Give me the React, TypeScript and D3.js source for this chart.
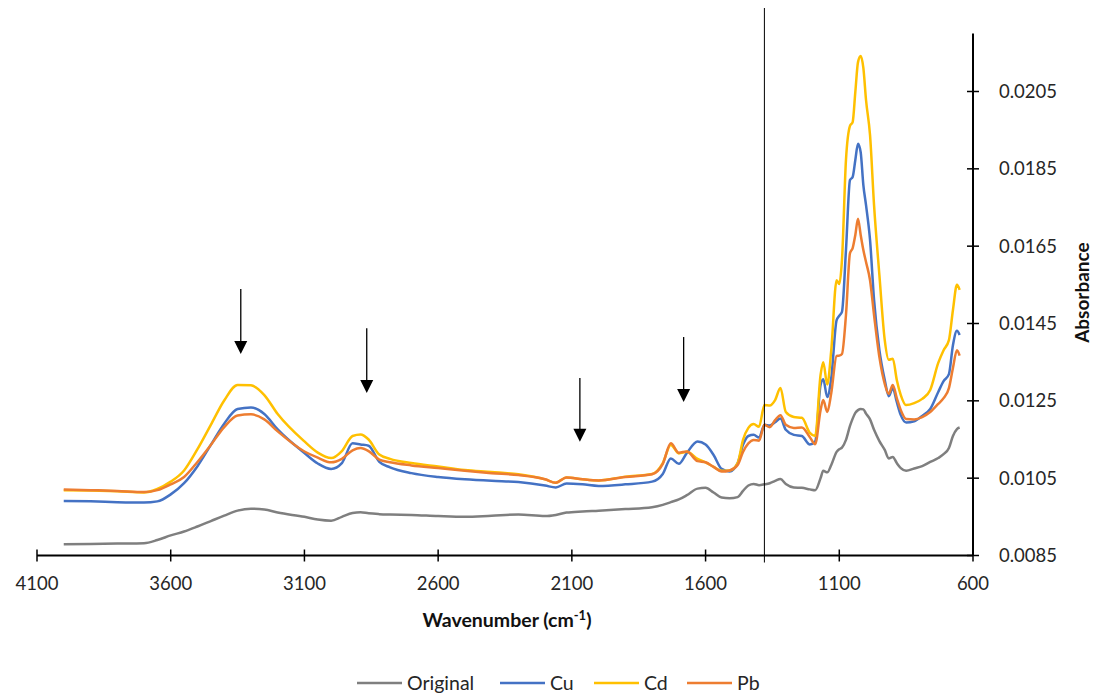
import React from "react";
import * as d3 from "d3";

// wavenumber grid (cm-1), shared by every spectrum
const wavenumbers = [
  4000, 3900, 3800, 3700, 3650, 3600, 3550, 3500, 3450, 3400,
  3350, 3300, 3250, 3200, 3100, 3050, 3000, 2960, 2920, 2890,
  2860, 2820, 2780, 2700, 2600, 2500, 2400, 2300, 2200, 2160,
  2120, 2060, 2000, 1900, 1800, 1760, 1730, 1700, 1670, 1630,
  1600, 1570, 1540, 1510, 1480, 1460, 1440, 1420, 1400, 1380,
  1360, 1340, 1320, 1300, 1270, 1240, 1210, 1190, 1170, 1160,
  1145, 1130, 1110, 1100, 1090, 1075, 1060, 1050, 1040, 1030,
  1020, 1010, 1000, 985, 970, 950, 930, 915, 900, 885,
  870, 850, 820, 790, 760, 730, 710, 690, 675, 660,
  650,
];

const original = [
  0.00879, 0.0088, 0.00881, 0.00882, 0.0089, 0.00902, 0.00912, 0.00925, 0.00939, 0.00953,
  0.00966, 0.00971, 0.00969, 0.00961, 0.0095, 0.00943, 0.0094, 0.0095, 0.0096, 0.00962,
  0.00959, 0.00957, 0.00956, 0.00955, 0.00952, 0.0095, 0.00953, 0.00956, 0.00952, 0.00955,
  0.00961, 0.00964, 0.00966, 0.0097, 0.00975, 0.00981, 0.00988, 0.00995, 0.01006, 0.01023,
  0.01025, 0.01013, 0.01, 0.00998, 0.01001, 0.01017, 0.01031, 0.01035, 0.01032, 0.01034,
  0.01037, 0.01043, 0.01048, 0.01035, 0.01026, 0.01025, 0.01021, 0.01019, 0.0105, 0.01069,
  0.01065, 0.01084, 0.01118, 0.01125, 0.01129, 0.01149, 0.01185, 0.01204, 0.01219, 0.01226,
  0.01229, 0.01228, 0.01217, 0.01202, 0.01175, 0.01146, 0.01123, 0.01101, 0.01105, 0.01089,
  0.01076, 0.01069, 0.01075, 0.01081, 0.01092, 0.01102, 0.01112, 0.01128, 0.01159, 0.01177,
  0.01181,
];

const cu = [
  0.00991, 0.0099, 0.00988, 0.00987, 0.0099, 0.01008, 0.01037, 0.01081, 0.01136, 0.01191,
  0.01229, 0.01233, 0.01216, 0.01176, 0.01115, 0.01088, 0.01074, 0.01089, 0.0114, 0.01137,
  0.01134, 0.01092, 0.01078, 0.01063, 0.01053, 0.01047, 0.01043, 0.0104, 0.01031, 0.01026,
  0.01036, 0.01034, 0.0103, 0.01034, 0.01041, 0.01061, 0.01101, 0.01087, 0.01115, 0.01145,
  0.01137, 0.0111, 0.01074, 0.01067, 0.01089, 0.01136, 0.01159, 0.01162, 0.01155, 0.01188,
  0.01186, 0.01195, 0.01204, 0.01175, 0.01162, 0.01159, 0.01137, 0.01145, 0.01291, 0.01306,
  0.0126, 0.01309, 0.01459, 0.0147, 0.0148, 0.0164, 0.01821, 0.01829, 0.01873, 0.01915,
  0.01893, 0.01808, 0.01756, 0.01666, 0.01511, 0.01381, 0.01304, 0.01262, 0.01283, 0.01247,
  0.01213, 0.01194, 0.01197, 0.01211, 0.01229, 0.01273, 0.01301, 0.01319, 0.01394, 0.01431,
  0.0142,
];

const cd = [
  0.01019, 0.01018, 0.01016, 0.01013, 0.01022, 0.01041, 0.0107, 0.01125, 0.01188, 0.01251,
  0.01291, 0.0129, 0.01265, 0.01216, 0.01145, 0.01116, 0.01102, 0.0112, 0.01159, 0.01163,
  0.0115, 0.01111, 0.011, 0.01089, 0.0108, 0.01071, 0.01066, 0.0106, 0.01047, 0.01038,
  0.01052, 0.01047, 0.01044, 0.01054, 0.01061, 0.01089, 0.01136, 0.01114, 0.01118, 0.011,
  0.01091, 0.01079, 0.01069, 0.0107, 0.01089, 0.01149, 0.0118, 0.0119, 0.01183, 0.01239,
  0.01238, 0.01252, 0.01283, 0.01221, 0.01208, 0.01206, 0.01167, 0.01159, 0.01317, 0.0135,
  0.01292, 0.01381, 0.01562, 0.01552, 0.01614, 0.01873, 0.01961, 0.01971, 0.02049, 0.02126,
  0.02142, 0.02111, 0.02028, 0.01937, 0.01756, 0.01575, 0.01407, 0.01356, 0.01359, 0.01304,
  0.01265, 0.01239, 0.01244, 0.01255, 0.01278, 0.01348, 0.01381, 0.01407, 0.01485, 0.0155,
  0.01537,
];

const pb = [
  0.01021, 0.01019, 0.01017, 0.01014, 0.01019, 0.01034, 0.01053, 0.01092, 0.01136, 0.01182,
  0.01212, 0.01215, 0.01202, 0.01171, 0.01119, 0.01103, 0.01091, 0.011, 0.01122, 0.01128,
  0.0112, 0.01098, 0.01091, 0.01083, 0.01076, 0.01069, 0.01063, 0.01058, 0.01047, 0.01038,
  0.01052, 0.01047, 0.01044, 0.01053, 0.0106, 0.01087, 0.0114, 0.01116, 0.01119, 0.01094,
  0.01091, 0.01079, 0.01067, 0.0107, 0.01084, 0.01118, 0.0114, 0.01149, 0.01147, 0.01188,
  0.01182, 0.012, 0.01213, 0.01188, 0.0118, 0.01181, 0.01156, 0.01138, 0.01226, 0.01252,
  0.01221, 0.0127, 0.01366, 0.01367, 0.01371, 0.01472, 0.01632, 0.01645, 0.01679, 0.01721,
  0.01679, 0.0164, 0.01609, 0.01562, 0.01472, 0.01363, 0.01294, 0.01268, 0.01291, 0.01257,
  0.01226, 0.01203, 0.01202, 0.01208, 0.01221, 0.01242, 0.01257, 0.01283, 0.01335, 0.01381,
  0.01367,
];

const seriesNames = ["Original", "Cu", "Cd", "Pb"];
const seriesColors = ["#7f7f7f", "#4472c4", "#ffc000", "#ed7d31"];
const seriesValues = [original, cu, cd, pb];

const xTicks = [4100, 3600, 3100, 2600, 2100, 1600, 1100, 600];
const yTicks = [0.0085, 0.0105, 0.0125, 0.0145, 0.0165, 0.0185, 0.0205];

// marker arrows: wavenumber, top of shaft, arrow tip (absorbance)
const arrowAt = [3338, 2867, 2070, 1682];
const arrowTop = [0.01539, 0.01438, 0.01309, 0.01415];
const arrowTip = [0.01371, 0.0127, 0.01144, 0.01247];

const dividerAt = 1380;

const W = 1093;
const H = 697;
const FONT = "Lato, 'Open Sans', sans-serif";

export default function App() {
  const x = d3.scaleLinear().domain([4100, 600]).range([37, 973]);
  const y = d3.scaleLinear().domain([0.0085, 0.022]).range([555.5, 33.5]);

  const line = d3
    .line<number>()
    .x((_, i) => x(wavenumbers[i]))
    .y((d) => y(d))
    .curve(d3.curveMonotoneX);

  const axisY = y(0.0085);
  const axisX = x(600);

  return (
    <svg
      width={W}
      height={H}
      style={{ position: "absolute", left: 0, top: 0, background: "#fff" }}
      fontFamily={FONT}
    >
      {/* spectra */}
      {seriesValues.map((vals, k) => (
        <path
          key={seriesNames[k]}
          d={line(vals) || ""}
          fill="none"
          stroke={seriesColors[k]}
          strokeWidth={2.5}
          strokeLinejoin="round"
        />
      ))}

      {/* x axis */}
      <line x1={x(4100)} x2={axisX} y1={axisY} y2={axisY} stroke="#000" strokeWidth={2} />
      {xTicks.map((t) => (
        <g key={t}>
          <line x1={x(t)} x2={x(t)} y1={axisY - 6} y2={axisY + 6} stroke="#000" strokeWidth={1.5} />
          <text x={x(t)} y={590} textAnchor="middle" fontSize={18.5} fill="#262626">
            {t}
          </text>
        </g>
      ))}
      <text x={507} y={627} textAnchor="middle" fontSize={19.5} fontWeight="bold" fill="#111">
        Wavenumber (cm
        <tspan dy={-7} fontSize={13}>-1</tspan>
        <tspan dy={7}>)</tspan>
      </text>

      {/* y axis on the right */}
      <line x1={axisX} x2={axisX} y1={y(0.022)} y2={axisY} stroke="#000" strokeWidth={2} />
      {yTicks.map((t) => (
        <g key={t}>
          <line x1={axisX - 6} x2={axisX + 6} y1={y(t)} y2={y(t)} stroke="#000" strokeWidth={1.5} />
          <text x={999} y={y(t)} dy="0.35em" fontSize={18.5} fill="#262626">
            {d3.format(".4f")(t)}
          </text>
        </g>
      ))}
      <text
        transform={`translate(1089, ${y(0.0153)}) rotate(-90)`}
        textAnchor="middle"
        fontSize={19}
        fontWeight="bold"
        fill="#111"
      >
        Absorbance
      </text>

      {/* divider line */}
      <line x1={x(dividerAt)} x2={x(dividerAt)} y1={8} y2={axisY + 7} stroke="#000" strokeWidth={1} />

      {/* arrows */}
      {arrowAt.map((w, i) => {
        const ax = x(w);
        const tip = y(arrowTip[i]);
        return (
          <g key={w}>
            <line x1={ax} x2={ax} y1={y(arrowTop[i])} y2={tip - 10} stroke="#000" strokeWidth={1.3} />
            <path d={`M${ax - 6.5},${tip - 13} L${ax + 6.5},${tip - 13} L${ax},${tip} Z`} fill="#000" />
          </g>
        );
      })}

      {/* legend */}
      {[357, 500, 594, 687].map((lx, k) => (
        <g key={seriesNames[k]} transform={`translate(${lx}, 683)`}>
          <line x1={0} x2={45} y1={0} y2={0} stroke={seriesColors[k]} strokeWidth={2.5} />
          <text x={50} y={0} dy="0.35em" fontSize={19.5} fill="#262626">
            {seriesNames[k]}
          </text>
        </g>
      ))}
    </svg>
  );
}
